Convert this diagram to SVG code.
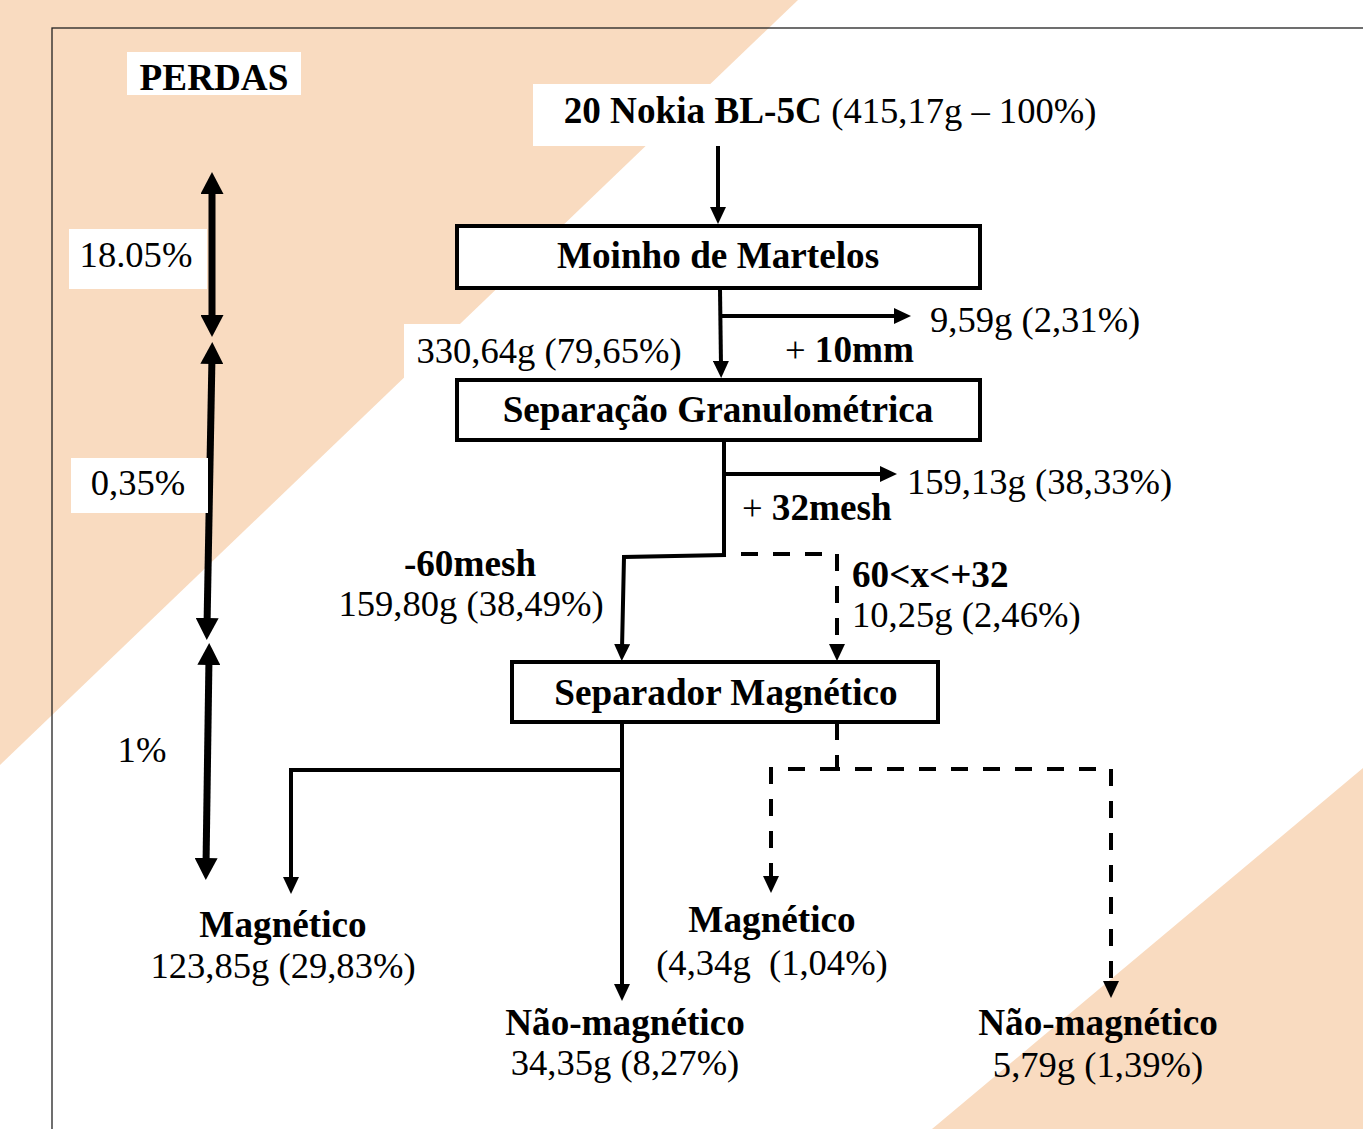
<svg xmlns="http://www.w3.org/2000/svg" width="1363" height="1129" viewBox="0 0 1363 1129">
<style>
text{font-family:"Liberation Serif","Times New Roman",serif;font-size:36.6px;fill:#000}
.b{font-weight:bold;font-size:37.2px}
.m{text-anchor:middle}
.box{fill:#fff;stroke:#000;stroke-width:4}
.lbl{fill:#fff;stroke:none}
.c{fill:none;stroke:#000;stroke-width:4;marker-end:url(#ah)}
.cn{fill:none;stroke:#000;stroke-width:4}
.d{stroke-dasharray:17 15}
.p{fill:none;stroke:#000;stroke-width:7;marker-start:url(#bh);marker-end:url(#bh)}
</style>
<defs>
<marker id="ah" markerUnits="userSpaceOnUse" markerWidth="17" markerHeight="16" viewBox="0 0 17 16" refX="5" refY="8" orient="auto"><path d="M0,0 L17,8 L0,16 z" fill="#000"/></marker>
<marker id="bh" markerUnits="userSpaceOnUse" markerWidth="22" markerHeight="23" viewBox="0 0 22 23" refX="8" refY="11.5" orient="auto-start-reverse"><path d="M0,0 L22,11.5 L0,23 z" fill="#000"/></marker>
</defs>
<rect x="0" y="0" width="1363" height="1129" fill="#fff"/>
<polygon points="0,0 798,0 0,765" fill="#F9DBC0"/>
<polygon points="1363,768 1363,1129 932,1129" fill="#F9DBC0"/>
<rect x="52" y="28" width="1400" height="1200" fill="none" stroke="#222" stroke-width="1.3"/>

<g id="perdas">
<rect class="lbl" x="127" y="52" width="174" height="43"/>
<text class="b m" x="214" y="90">PERDAS</text>
</g>
<g id="loss-arrows">
<path class="p" d="M212,186 V323"/>
<path class="p" d="M212,356 L207,626"/>
<path class="p" d="M209,657 L206,866"/>
</g>
<g id="loss-1805">
<rect class="lbl" x="69" y="229" width="138" height="60"/>
<text class="m" x="136" y="267">18.05%</text>
</g>
<g id="loss-035">
<rect class="lbl" x="71" y="458" width="137" height="55"/>
<text class="m" x="138" y="495">0,35%</text>
</g>
<g id="loss-1">
<text class="m" x="142" y="762">1%</text>
</g>

<g id="connectors">
<path class="c" d="M718,146 V212"/>
<path class="c" d="M720,289 L721,366"/>
<path class="c" d="M721,316 H899"/>
<path class="cn" d="M724,441 V556"/>
<path class="c" d="M724,474 H885"/>
<path class="c" d="M726,555 L624,557 L622,649"/>
<path class="c d" d="M741,554 H837 V649"/>
<path class="c" d="M622,723 V989"/>
<path class="c" d="M624,770 H291 V882"/>
<path class="cn d" d="M837,723 V769 H1111"/>
<path class="c d" d="M837,769 H771 V881"/>
<path class="c d" d="M1111,769 V986"/>
</g>

<g id="input">
<rect class="lbl" x="533" y="84" width="577" height="62"/>
<text class="m" x="830" y="123"><tspan class="b">20 Nokia BL-5C </tspan>(415,17g – 100%)</text>
</g>
<g id="moinho">
<rect class="box" x="457" y="226" width="523" height="62"/>
<text class="b m" x="718" y="268">Moinho de Martelos</text>
</g>
<g id="out-10mm">
<text x="930" y="332">9,59g (2,31%)</text>
<text x="785" y="362">+ <tspan class="b">10mm</tspan></text>
</g>
<g id="flow-330">
<rect class="lbl" x="404" y="324" width="296" height="55"/>
<text class="m" x="549" y="363">330,64g (79,65%)</text>
</g>
<g id="separacao">
<rect class="box" x="457" y="380" width="523" height="60"/>
<text class="b m" x="718" y="422">Separação Granulométrica</text>
</g>
<g id="out-32mesh">
<text x="907" y="494">159,13g (38,33%)</text>
<text x="742" y="520">+ <tspan class="b">32mesh</tspan></text>
</g>
<g id="fine">
<text class="b m" x="470" y="576">-60mesh</text>
<text class="m" x="471" y="616">159,80g (38,49%)</text>
</g>
<g id="mid">
<text class="b" x="852" y="587">60&lt;x&lt;+32</text>
<text x="852" y="627">10,25g (2,46%)</text>
</g>
<g id="separador">
<rect class="box" x="512" y="662" width="426" height="60"/>
<text class="b m" x="726" y="705">Separador Magnético</text>
</g>
<g id="mag-1">
<text class="b m" x="283" y="937">Magnético</text>
<text class="m" x="283" y="978">123,85g (29,83%)</text>
</g>
<g id="nonmag-1">
<text class="b m" x="625" y="1035">Não-magnético</text>
<text class="m" x="625" y="1075">34,35g (8,27%)</text>
</g>
<g id="mag-2">
<text class="b m" x="772" y="932">Magnético</text>
<text class="m" x="772" y="975" xml:space="preserve">(4,34g  (1,04%)</text>
</g>
<g id="nonmag-2">
<text class="b m" x="1098" y="1035">Não-magnético</text>
<text class="m" x="1098" y="1077">5,79g (1,39%)</text>
</g>
</svg>
